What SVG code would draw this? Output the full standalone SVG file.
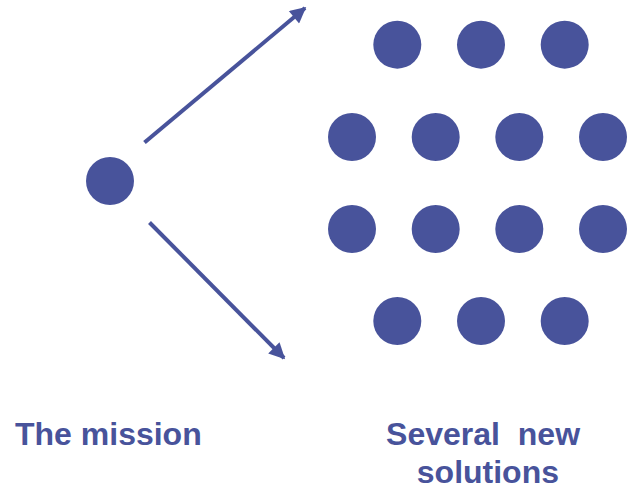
<svg xmlns="http://www.w3.org/2000/svg" width="627" height="489" viewBox="0 0 627 489">
  <style>
    .dot { fill: #48539b; }
    .conn { stroke: #48539b; stroke-width: 4; fill: none; }
    .lbl { font-family: "Liberation Sans", Arial, sans-serif; font-weight: bold; font-size: 32px; fill: #48539b; }
  </style>
  <defs>
    <marker id="ah" viewBox="0 0 10 10" refX="9" refY="5" markerWidth="4.5" markerHeight="4" markerUnits="strokeWidth" orient="auto">
      <path d="M0,0 L10,5 L0,10 Z" fill="#48539b"/>
    </marker>
  </defs>
  <rect width="627" height="489" fill="#ffffff"/>
  <g id="connectors">
    <line class="conn" x1="144.5" y1="142.5" x2="305" y2="8" marker-end="url(#ah)"/>
    <line class="conn" x1="149.5" y1="222.5" x2="284" y2="358" marker-end="url(#ah)"/>
  </g>
  <g id="mission">
    <circle class="dot" cx="110" cy="181" r="24"/>
    <text class="lbl" x="15" y="445">The mission</text>
  </g>
  <g id="solutions">
    <circle class="dot" cx="397.3" cy="44.7" r="24"/>
    <circle class="dot" cx="481" cy="44.7" r="24"/>
    <circle class="dot" cx="564.7" cy="44.7" r="24"/>
    <circle class="dot" cx="352" cy="137" r="24"/>
    <circle class="dot" cx="435.7" cy="137" r="24"/>
    <circle class="dot" cx="519.3" cy="137" r="24"/>
    <circle class="dot" cx="603" cy="137" r="24"/>
    <circle class="dot" cx="352" cy="229" r="24"/>
    <circle class="dot" cx="435.7" cy="229" r="24"/>
    <circle class="dot" cx="519.3" cy="229" r="24"/>
    <circle class="dot" cx="603" cy="229" r="24"/>
    <circle class="dot" cx="397.3" cy="321" r="24"/>
    <circle class="dot" cx="481" cy="321" r="24"/>
    <circle class="dot" cx="564.7" cy="321" r="24"/>
    <text class="lbl" text-anchor="middle">
      <tspan x="487.5" y="445" word-spacing="9">Several new</tspan>
      <tspan x="487.9" y="482.5">solutions</tspan>
    </text>
  </g>
</svg>
